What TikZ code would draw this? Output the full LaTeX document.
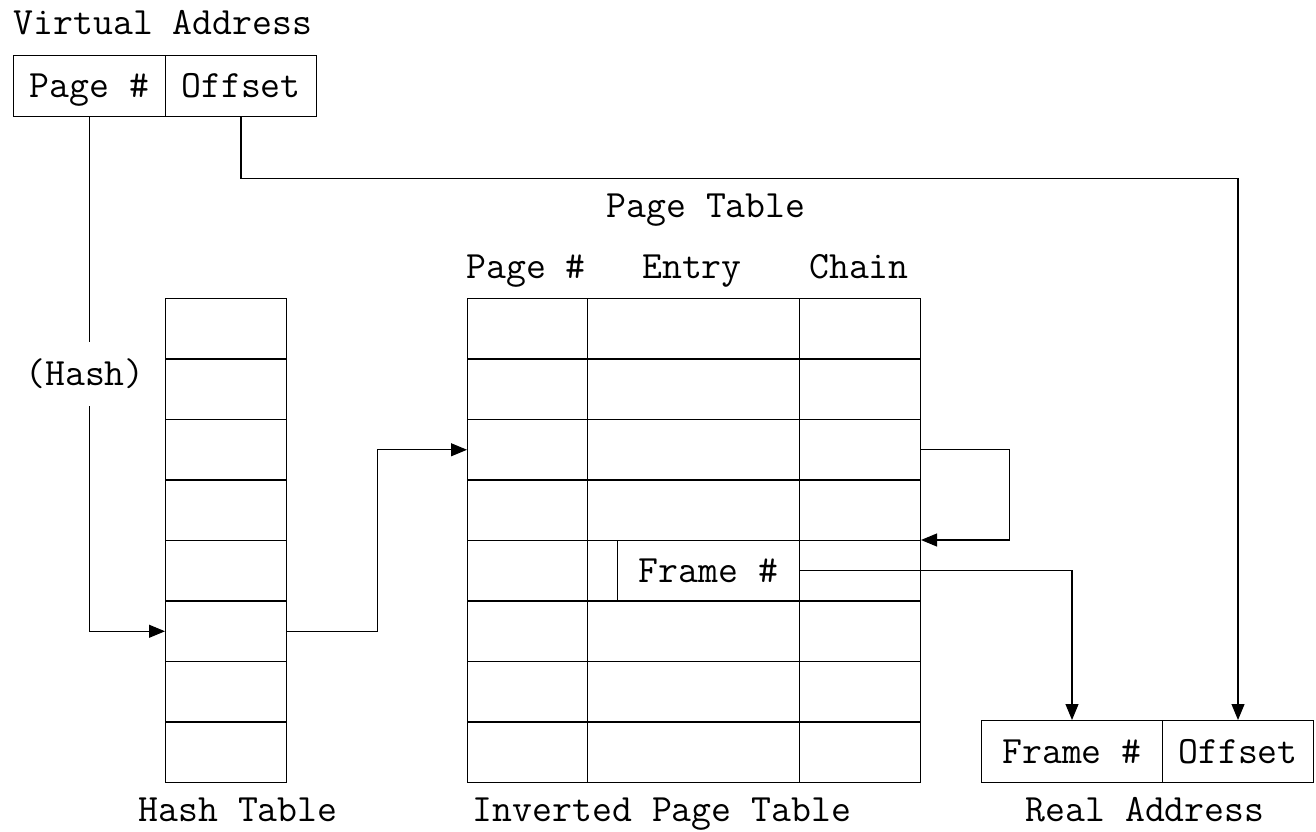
\documentclass[tikz,border=0pt]{standalone}
\usepackage{fontspec}
\usetikzlibrary{arrows.meta}

\begin{document}
\begin{tikzpicture}[x=0.02cm, y=-0.02cm,
    cell/.style={draw, line width=0.6pt, inner sep=0pt, anchor=north west, text height=15pt, text depth=1.4pt, font=\ttfamily\fontsize{22}{26}\selectfont},
    lbl/.style={font=\ttfamily\fontsize{22}{26}\selectfont, inner sep=1pt, text height=15pt, text depth=1.4pt},
    arr/.style={line width=0.6pt, -{Triangle[length=0.32cm, width=0.26cm]}}]
    \useasboundingbox (0,0) rectangle (1316,832);

    % virtual address
    \node[lbl] (vatitle) at (163,23) {Virtual Address};
    \node[cell, minimum width=3.04cm, minimum height=1.22cm] (vapage) at (13,55) {Page \#};
    \node[cell, minimum width=3.02cm, minimum height=1.22cm] (vaoff) at (165,55) {Offset};

    % hash table
    \foreach \r in {1,...,8}
        \node[cell, minimum width=2.42cm, minimum height=1.21cm] (h\r) at (165,{298+(\r-1)*60.5}) {};
    \node[lbl] (htitle) at (238,810) {Hash Table};

    % inverted page table
    \node[lbl] (pttitle) at (706,206) {Page Table};
    \node[lbl] (phead) at (526,267) {Page \#};
    \node[lbl] (ehead) at (692,267) {Entry};
    \node[lbl] (chead) at (859,267) {Chain};
    \foreach \r in {1,...,8} {
        \node[cell, minimum width=2.4cm, minimum height=1.21cm] (p\r) at (467,{298+(\r-1)*60.5}) {};
        \node[cell, minimum width=2.42cm, minimum height=1.21cm] (c\r) at (799,{298+(\r-1)*60.5}) {};
    }
    \foreach \r in {1,2,3,4,6,7,8}
        \node[cell, minimum width=4.24cm, minimum height=1.21cm] (e\r) at (587,{298+(\r-1)*60.5}) {};
    \node[cell, minimum width=0.6cm, minimum height=1.21cm] (s5) at (587,540) {};
    \node[cell, minimum width=3.64cm, minimum height=1.21cm] (frame) at (617,540) {Frame \#};
    \node[lbl] (ipttitle) at (662,810) {Inverted Page Table};

    % real address
    \node[cell, minimum width=3.62cm, minimum height=1.24cm] (rafr) at (981,720) {Frame \#};
    \node[cell, minimum width=3.02cm, minimum height=1.24cm] (raoff) at (1162,720) {Offset};
    \node[lbl] (ratitle) at (1145,810) {Real Address};

    % connectors
    \draw[arr] (vapage.south) |- (h6.west);
    \node[lbl, fill=white, inner ysep=10pt] (hash) at (85,374) {(Hash)};
    \draw[arr] (vaoff.south) -- ++(0,61) -| (raoff.north);
    \draw[arr] (h6.east) -- ++(90,0) |- (p3.west);
    \draw[arr] (c3.east) -- ++(88,0) |- (c5.north east);
    \draw[arr] (frame.east) -| (rafr.north);
\end{tikzpicture}
\end{document}
